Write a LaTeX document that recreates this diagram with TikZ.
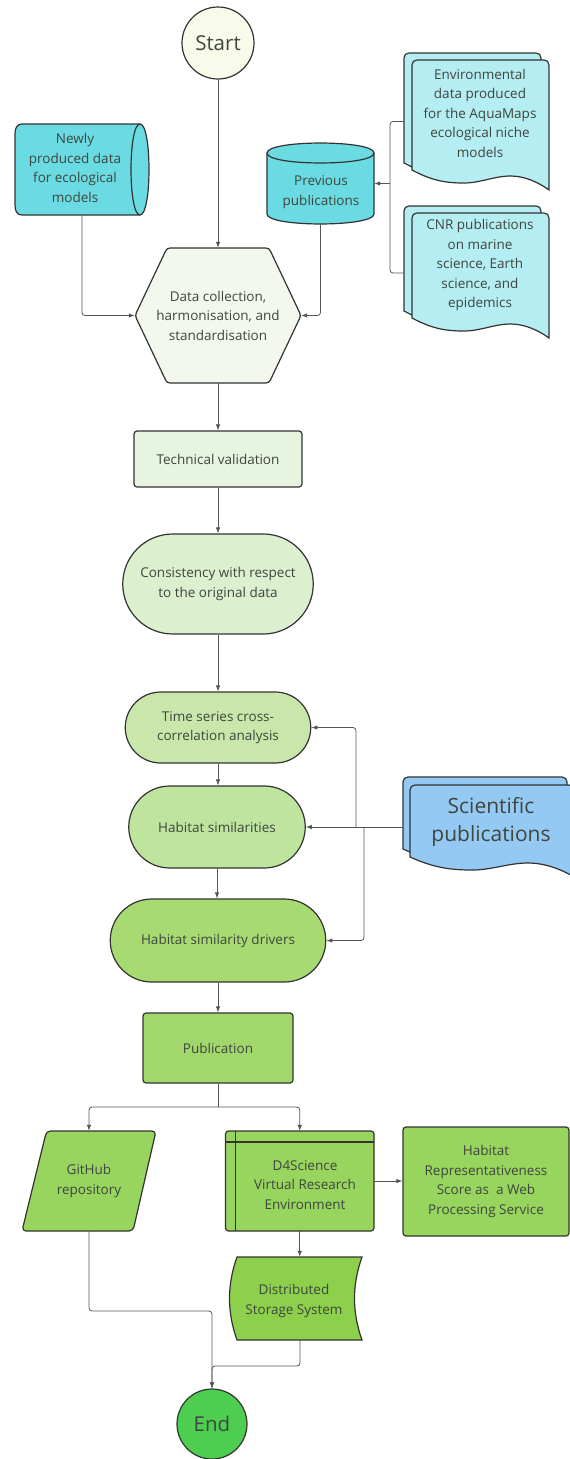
\documentclass[tikz,border=0pt]{standalone}
\usepackage{fontspec}
\setmainfont{Open Sans}
\usetikzlibrary{shapes.misc,arrows.meta,calc}
\definecolor{bordc}{HTML}{333333}
\definecolor{linec}{HTML}{555555}
\definecolor{txtc}{HTML}{3E463E}
\definecolor{cStart}{HTML}{F8FAEA}
\definecolor{cCyl}{HTML}{6ADBE2}
\definecolor{cDoc}{HTML}{B4EDF2}
\definecolor{cSci}{HTML}{93C9F3}
\definecolor{cHex}{HTML}{F3F8EE}
\definecolor{cTech}{HTML}{E7F4DF}
\definecolor{cCons}{HTML}{DCF0D0}
\definecolor{cTime}{HTML}{C9E7AA}
\definecolor{cHab}{HTML}{BEE49E}
\definecolor{cDrv}{HTML}{A8DA72}
\definecolor{cPub}{HTML}{A2D86B}
\definecolor{cGthree}{HTML}{98D55E}
\definecolor{cDist}{HTML}{8DD04C}
\definecolor{cEnd}{HTML}{4DCE50}
\tikzset{
  outline/.style={draw=bordc, line width=1.2pt},
  txt/.style={font=\fontsize{13.5}{19.5}\selectfont, text=txtc, align=center, inner sep=0pt},
  sbox/.style 2 args={txt, draw=none, minimum width=#1pt, minimum height=#2pt},
  rect/.style={txt, outline, rounded corners=3pt},
  stadium/.style={txt, outline, rounded rectangle},
  conn/.style={draw=linec, line width=0.8pt, rounded corners=3pt},
  arr/.style={conn, -{Latex[length=6pt,width=4.5pt]}}
}
\newcommand{\docshape}[5]{%
\filldraw[outline, fill=#1] ({#2+#4},{#5+20}) -- ({#2+#4},{#3+5}) .. controls ({#2+#4},{#3+2}) and ({#2+#4-2},#3) .. ({#2+#4-5},#3) -- ({#2+5},#3) .. controls ({#2+2},#3) and (#2,{#3+2}) .. (#2,{#3+5}) -- (#2,#5) .. controls ({#2+0.15*#4},{#5+11}) and ({#2+0.25*#4},{#5+13}) .. ({#2+0.38*#4},{#5+13}) .. controls ({#2+0.5*#4},{#5+13}) and ({#2+0.6*#4},{#5+6}) .. ({#2+0.72*#4},{#5+6}) .. controls ({#2+0.82*#4},{#5+6}) and ({#2+0.92*#4},{#5+12}) .. ({#2+#4},{#5+20}) -- cycle;}
\begin{document}
\begin{tikzpicture}[x=1pt,y=-1pt]
\useasboundingbox (0,0) rectangle (570,1459);
\fill[white] (0,0) rectangle (570,1459);

% Start
\node[circle, outline, fill=cStart, minimum size=72pt, inner sep=0pt, font=\fontsize{20.5}{24}\selectfont, text=txtc] (start) at (218,43) {Start};

% Newly produced data (horizontal cylinder)
\filldraw[outline, fill=cCyl] (140,124) -- (22,124) .. controls (17,124) and (15,128) .. (15,134) -- (15,205) .. controls (15,211) and (17,215) .. (22,215) -- (140,215) .. controls (152,215) and (152,124) .. (140,124) -- cycle;
\draw[outline] (140,124) .. controls (128,124) and (128,215) .. (140,215);
\node[sbox={134}{91}] (newly) at (82,169.5) {};
\node[txt] (newlyt) at (75,168) {Newly\\produced data\\for ecological\\models};

% Previous publications (vertical cylinder)
\filldraw[outline, fill=cCyl] (267,153) -- (267,214) .. controls (267,227.3) and (374,227.3) .. (374,214) -- (374,153) .. controls (374,139.7) and (267,139.7) .. (267,153) -- cycle;
\draw[outline] (267,153) .. controls (267,166.3) and (374,166.3) .. (374,153);
\node[sbox={107}{81}] (prev) at (320.5,183.5) {};
\node[txt] (prevt) at (321,192) {Previous\\publications};

% Environmental data documents
\docshape{cDoc}{404}{53}{137}{163}
\docshape{cDoc}{412}{60}{137}{170}
\node[sbox={145}{137}] (env) at (476.5,121.5) {};
\node[txt] (envt) at (480,113) {Environmental\\data produced\\for the AquaMaps\\ecological niche\\models};

% CNR publications documents
\docshape{cDoc}{404}{206}{137}{311}
\docshape{cDoc}{412}{213}{137}{318}
\node[sbox={145}{134}] (cnr) at (476.5,273) {};
\node[txt] (cnrt) at (480,265) {CNR publications\\on marine\\science, Earth\\science, and\\epidemics};

% Hexagon
\filldraw[outline, fill=cHex, rounded corners=3pt] (167,248) -- (269,248) -- (301,315.5) -- (269,383) -- (167,383) -- (135,315.5) -- cycle;
\node[sbox={166}{135}] (hex) at (218,315.5) {Data collection,\\harmonisation, and\\standardisation};

% Main column
\node[rect, fill=cTech, minimum width=168pt, minimum height=56pt] (tech) at (218,459) {Technical validation};
\node[stadium, fill=cCons, minimum width=190.5pt, minimum height=100pt] (cons) at (218,584) {Consistency with respect\\to the original data};
\node[stadium, fill=cTime, minimum width=185.5pt, minimum height=71pt] (time) at (218,727.5) {Time series cross-\\correlation analysis};
\node[stadium, fill=cHab, minimum width=176.5pt, minimum height=82pt] (habsim) at (217,827) {Habitat similarities};
\node[stadium, fill=cDrv, minimum width=215.5pt, minimum height=83pt] (drivers) at (218,940.5) {Habitat similarity drivers};
\node[rect, fill=cPub, minimum width=150pt, minimum height=70pt] (pub) at (218,1048) {Publication};

% Scientific publications documents
\docshape{cSci}{403}{777}{164}{849}
\docshape{cSci}{410}{785}{164}{857}
\node[sbox={171}{100}] (sci) at (488.5,827) {};
\node[txt, font=\fontsize{21}{28}\selectfont] (scit) at (491,822) {Scientific\\publications};

% GitHub parallelogram
\filldraw[outline, fill=cGthree, rounded corners=4pt] (46.5,1131) -- (156,1131) -- (133,1231) -- (22,1231) -- cycle;
\node[sbox={134}{100}] (git) at (89,1181) {GitHub\\repository};

% D4Science
\filldraw[outline, fill=cGthree, rounded corners=3pt] (225.5,1131) rectangle (374,1231);
\draw[outline] (225.5,1142) -- (374,1142);
\draw[outline] (235.6,1131) -- (235.6,1231);
\node[sbox={148.5}{100}] (d4) at (299.75,1181) {};
\node[txt] (d4t) at (305,1185) {D4Science\\Virtual Research\\Environment};

% HRS
\node[rect, fill=cGthree, minimum width=166pt, minimum height=109pt] (hrs) at (486,1181.5) {Habitat\\Representativeness\\Score as\ \ a Web\\Processing Service};

% Distributed Storage System
\filldraw[outline, fill=cDist] (237,1257) -- (362,1257) .. controls (352,1285) and (352,1312) .. (362,1340) -- (237,1340) .. controls (227,1312) and (227,1285) .. (237,1257) -- cycle;
\node[sbox={130}{83}] (dist) at (300,1298.5) {};
\node[txt] (distt) at (294,1301) {Distributed\\Storage System};

% End
\node[circle, outline, fill=cEnd, minimum size=70pt, inner sep=0pt, font=\fontsize{20.5}{24}\selectfont, text=txtc] (end) at (212,1424) {End};

% Connectors
\draw[arr] (start.south) -- (hex.north);
\draw[arr] (newly.south) |- (hex.west);
\draw[arr] (prev.south) |- (hex.east);
\coordinate (bus) at (390,183.5);
\draw[conn] (env.west) -| (bus);
\draw[conn] (cnr.west) -| (bus);
\draw[arr] (bus) -- (prev.east);
\draw[arr] (hex.south) -- (tech.north);
\draw[arr] (tech.south) -- (cons.north);
\draw[arr] (cons.south) -- (time.north);
\draw[arr] (time.south) -- (time.south |- habsim.north);
\draw[arr] (habsim.south) -- (habsim.south |- drivers.north);
\draw[arr] (drivers.south) -- (pub.north);
\coordinate (sU) at (356,827);
\coordinate (sD) at (364,827);
\draw[arr] (sci.west) -- (habsim.east);
\draw[arr] (sU) |- (time.east);
\draw[arr] (sD) |- (drivers.east);
\coordinate (split) at (218,1107);
\draw[conn] (pub.south) -- (split);
\draw[arr] (split) -| (git.north);
\draw[arr] (split) -| (d4.north);
\draw[arr] (d4.east) -- (hrs.west |- d4.east);
\draw[arr] (d4.south) -- (d4.south |- dist.north);
\coordinate (em) at (212,1311);
\coordinate (dm) at (212,1366);
\draw[arr] (git.south) |- (em) -- (end.north);
\draw[arr] (dist.south) |- (dm) -- (end.north);
\end{tikzpicture}
\end{document}
